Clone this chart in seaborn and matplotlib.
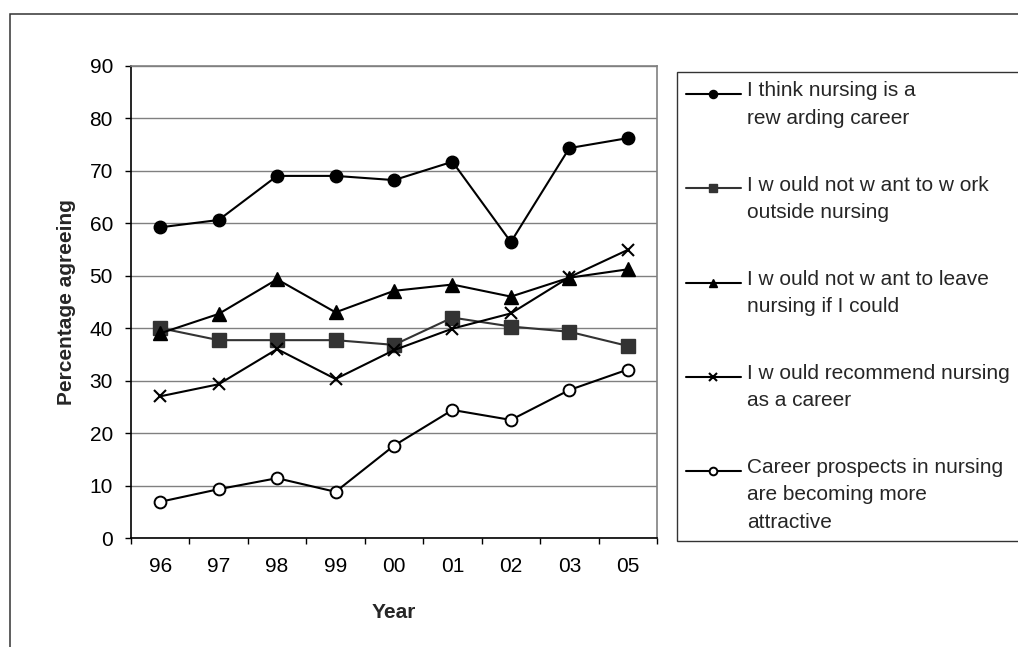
import numpy as np
import pandas as pd
import matplotlib
matplotlib.use("Agg")
import matplotlib.pyplot as plt
import matplotlib.patches as mpatches
from matplotlib.ticker import FixedLocator, NullFormatter
import seaborn as sns

# ---------------- data ----------------
years = ["96", "97", "98", "99", "00", "01", "02", "03", "05"]
rewarding = [59.2, 60.6, 69.0, 69.0, 68.2, 71.7, 56.4, 74.3, 76.2]
not_outside = [40.0, 37.7, 37.7, 37.7, 36.8, 42.0, 40.3, 39.3, 36.6]
not_leave = [39.0, 42.7, 49.3, 43.0, 47.1, 48.3, 46.0, 49.6, 51.2]
recommend = [27.0, 29.3, 36.0, 30.3, 35.8, 39.9, 42.8, 49.7, 54.9]
prospects = [6.9, 9.3, 11.4, 8.8, 17.6, 24.4, 22.5, 28.2, 32.1]

labels = [
    "I think nursing is a\nrew arding career",
    "I w ould not w ant to w ork\noutside nursing",
    "I w ould not w ant to leave\nnursing if I could",
    "I w ould recommend nursing\nas a career",
    "Career prospects in nursing\nare becoming more\nattractive",
]
y_ticks = [0, 10, 20, 30, 40, 50, 60, 70, 80, 90]

series = [rewarding, not_outside, not_leave, recommend, prospects]

# ---------------- style ----------------
sns.set_theme(style="white")
plt.rcParams["font.family"] = ["Liberation Sans", "DejaVu Sans"]
FS = 15

styles = [
    dict(marker="o", color="black", mfc="black", mec="black", ms=9, mew=1),
    dict(marker="s", color="#333333", mfc="#333333", mec="#333333", ms=9.5, mew=1),
    dict(marker="^", color="black", mfc="black", mec="black", ms=9.5, mew=1),
    dict(marker="x", color="black", mfc="black", mec="black", ms=9, mew=1.5),
    dict(marker="o", color="black", mfc="white", mec="black", ms=8.5, mew=1.4),
]

DPI = 100
fig = plt.figure(figsize=(10.18, 6.47), dpi=DPI)
fig.patch.set_facecolor("white")
ax = fig.add_axes([131 / 1018, 1 - 538 / 647, (657 - 131) / 1018, (538 - 65.7) / 647])

x_pos = np.arange(len(years))
for vals, lab, st in zip(series, labels, styles):
    df = pd.DataFrame({"x": x_pos, "y": vals})
    sns.lineplot(data=df, x="x", y="y", ax=ax, label=lab, color=st["color"],
                 marker=st["marker"], markersize=st["ms"],
                 markerfacecolor=st["mfc"], markeredgecolor=st["mec"],
                 markeredgewidth=st["mew"], linewidth=1.5, zorder=3)

ax.set_xlim(-0.5, len(years) - 0.5)
ax.set_ylim(0, 90)
ax.set_yticks(y_ticks)
ax.set_xticks(x_pos)
ax.set_xticklabels(years)
ax.xaxis.set_minor_locator(FixedLocator(np.arange(len(years) + 1) - 0.5))
ax.xaxis.set_minor_formatter(NullFormatter())
ax.tick_params(axis="x", which="major", length=0, pad=14, labelsize=FS, colors="black")
ax.tick_params(axis="x", which="minor", length=4, width=1, direction="out", color="black", bottom=True)
ax.tick_params(axis="y", which="major", length=4, width=1, direction="out", pad=9,
               labelsize=FS, colors="black", left=True)

ax.yaxis.grid(True, color="#808080", linewidth=1, zorder=0)
ax.xaxis.grid(False)
ax.set_axisbelow(True)
for s in ["left", "bottom"]:
    ax.spines[s].set_color("black")
    ax.spines[s].set_linewidth(1.2)
for s in ["top", "right"]:
    ax.spines[s].set_color("#808080")
    ax.spines[s].set_linewidth(1.2)

ax.set_xlabel("Year", fontsize=FS, fontweight="bold", labelpad=19)
ax.set_ylabel("Percentage agreeing", fontsize=FS, fontweight="bold", labelpad=10)

# legend
leg = ax.legend(loc="upper left", bbox_to_anchor=(677 / 1018, 1 - 72 / 647),
                bbox_transform=fig.transFigure, frameon=True, fancybox=False,
                fontsize=FS, handlelength=2.6, handletextpad=0.3, borderpad=0.45,
                labelspacing=2.3, markerscale=0.65, borderaxespad=0)
leg.get_frame().set_edgecolor("black")
leg.get_frame().set_linewidth(1.0)
for t in leg.get_texts():
    t.set_linespacing(1.55)

# outer chart frame
fig.patches.append(mpatches.Rectangle((9.5 / 1018, -0.2), 1.3, 1.2 - 14 / 647,
                                      transform=fig.transFigure, fill=False,
                                      edgecolor="#333333", linewidth=1.1, zorder=0))

# align legend handles with first line of their labels
fig.canvas.draw()
renderer = fig.canvas.get_renderer()
fs_px = FS * DPI / 72
for h, t in zip(leg.legend_handles, leg.get_texts()):
    bb = t.get_window_extent(renderer)
    desired = bb.y1 - 0.62 * fs_px
    xd = np.asarray(h.get_xdata(), dtype=float)
    yd = np.asarray(h.get_ydata(), dtype=float)
    cur = h.get_transform().transform([[xd[0], yd[0]]])[0][1]
    delta_pts = (desired - cur) * 72 / DPI
    h.set_ydata(yd + delta_pts)

fig.savefig("out.png", dpi=DPI, facecolor="white")
